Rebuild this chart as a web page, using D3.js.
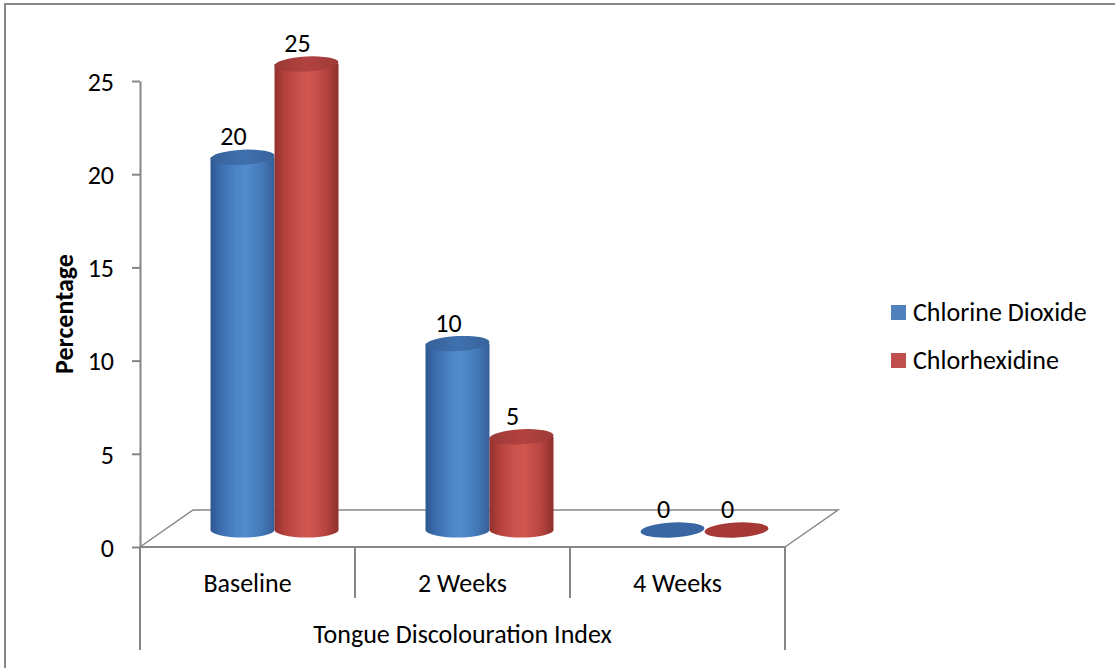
<!DOCTYPE html>
<html>
<head>
<meta charset="utf-8">
<script src="https://cdn.jsdelivr.net/npm/d3@7"></script>
<style>
  html, body { margin: 0; padding: 0; background: #fff; }
  svg { display: block; }
  text { font-family: Carlito, Calibri, Lato, "Open Sans", sans-serif; fill: #000; }
</style>
</head>
<body>
<svg id="chart" width="1115" height="668"></svg>
<script>
// Tongue discolouration index: share of subjects per visit, by mouthwash
const categories = ["Baseline", "2 Weeks", "4 Weeks"];
const seriesNames = ["Chlorine Dioxide", "Chlorhexidine"];
const chlorineDioxide = [20, 10, 0];
const chlorhexidine = [25, 5, 0];
const yTicks = [0, 5, 10, 15, 20, 25];
const yTitle = "Percentage";
const xTitle = "Tongue Discolouration Index";

const seriesValues = [chlorineDioxide, chlorhexidine];

const svg = d3.select("#chart");
const W = 1115, H = 668;
const axisGrey = "#868686";
const FS = 26;

// outer frame
svg.append("rect")
  .attr("x", 5).attr("y", 4).attr("width", W).attr("height", H)
  .attr("fill", "none").attr("stroke", axisGrey).attr("stroke-width", 2);

// scales (front plane of the 3-D floor)
const y = d3.scaleLinear().domain([0, 25]).range([547, 81]);
const x = d3.scaleBand().domain(categories).range([140, 785]);
const xs = d3.scaleBand().domain(seriesNames).range([0, x.bandwidth()])
  .paddingInner(0).paddingOuter(0.68);

// depth geometry
const depthX = 53, depthY = -37;      // back edge of the floor
const barDX = 27, barDY = -17;        // plane where the cylinders stand

// gradients for the cylinder bodies
const defs = svg.append("defs");
const palettes = {
  "Chlorine Dioxide": {
    body: ["#2d5790", "#3b6cad", "#4d85c6", "#528ccc", "#4479b9", "#355f98"],
    top: "#3c6aa6", flat: "#3a67a3", key: "#4f81bd"
  },
  "Chlorhexidine": {
    body: ["#92302d", "#b3403c", "#cc524e", "#d0564f", "#b84541", "#8e2f2c"],
    top: "#a93f3c", flat: "#a63936", key: "#c0504d"
  }
};
const stopsAt = [0, 0.15, 0.4, 0.55, 0.8, 1];
seriesNames.forEach((s, i) => {
  const g = defs.append("linearGradient").attr("id", "grad" + i)
    .attr("x1", "0%").attr("x2", "100%").attr("y1", "0%").attr("y2", "0%");
  palettes[s].body.forEach((c, k) => {
    g.append("stop").attr("offset", (stopsAt[k] * 100) + "%").attr("stop-color", c);
  });
  const t = defs.append("linearGradient").attr("id", "gradTop" + i)
    .attr("x1", "0%").attr("x2", "100%").attr("y1", "0%").attr("y2", "0%");
  t.append("stop").attr("offset", "0%").attr("stop-color", d3.color(palettes[s].top).darker(0.25));
  t.append("stop").attr("offset", "50%").attr("stop-color", d3.color(palettes[s].top).brighter(0.15));
  t.append("stop").attr("offset", "100%").attr("stop-color", d3.color(palettes[s].top).darker(0.2));
});

// floor
const x0 = x.range()[0], x1 = x.range()[1], yb = y(0);
svg.append("path")
  .attr("d", `M${x0},${yb} L${x0 + depthX},${yb + depthY} L${x1 + depthX},${yb + depthY} L${x1},${yb}`)
  .attr("fill", "none").attr("stroke", axisGrey).attr("stroke-width", 1.5);

// y axis
const yAxis = d3.axisLeft(y).tickValues(yTicks).tickSize(8).tickSizeOuter(0).tickPadding(18);
const gy = svg.append("g").attr("transform", `translate(${x0},0)`).call(yAxis);
gy.attr("font-size", null).attr("font-family", null);
gy.select(".domain").attr("stroke", axisGrey).attr("stroke-width", 2);
gy.selectAll(".tick line").attr("stroke", axisGrey).attr("stroke-width", 2);
gy.selectAll(".tick text").attr("font-size", FS).attr("dy", "0.36em").attr("fill", "#000");

// category axis: front edge and dividers
svg.append("line").attr("x1", x0).attr("x2", x1).attr("y1", yb).attr("y2", yb)
  .attr("stroke", axisGrey).attr("stroke-width", 2);
const dividers = [x0].concat(categories.map(c => x(c) + x.bandwidth()));
dividers.forEach((d, i) => {
  const outer = (i === 0 || i === dividers.length - 1);
  svg.append("line").attr("x1", d).attr("x2", d)
    .attr("y1", yb).attr("y2", outer ? 650 : 598)
    .attr("stroke", axisGrey).attr("stroke-width", 2);
});
svg.selectAll(".cat").data(categories).enter().append("text")
  .attr("class", "cat")
  .attr("x", d => x(d) + x.bandwidth() / 2)
  .attr("y", 592)
  .attr("text-anchor", "middle")
  .attr("font-size", FS)
  .text(d => d);

// axis titles
svg.append("text").attr("x", (x0 + x1) / 2).attr("y", 643)
  .attr("text-anchor", "middle").attr("font-size", FS).text(xTitle);
svg.append("text")
  .attr("transform", "translate(73,314) rotate(-90)")
  .attr("text-anchor", "middle").attr("font-size", FS).attr("font-weight", "bold")
  .text(yTitle);

// cylinders
const rx = xs.bandwidth() / 2, ry = 7.5;
const baseY = y(0) + barDY;
const bars = [];
categories.forEach((c, ci) => {
  seriesNames.forEach((s, si) => {
    bars.push({ cat: c, series: s, si: si, value: seriesValues[si][ci] });
  });
});
const barG = svg.append("g");
bars.forEach(b => {
  const cx = x(b.cat) + xs(b.series) + rx + barDX;
  const topY = y(b.value) + barDY;
  const g = barG.append("g");
  if (b.value > 0) {
    g.append("ellipse").attr("cx", cx).attr("cy", baseY).attr("rx", rx).attr("ry", ry)
      .attr("fill", `url(#grad${b.si})`);
    g.append("rect").attr("x", cx - rx).attr("y", topY).attr("width", rx * 2)
      .attr("height", baseY - topY).attr("fill", `url(#grad${b.si})`);
    g.append("ellipse").attr("cx", cx).attr("cy", topY).attr("rx", rx).attr("ry", ry)
      .attr("transform", `rotate(-3,${cx},${topY})`)
      .attr("fill", `url(#gradTop${b.si})`);
  } else {
    g.append("ellipse").attr("cx", cx).attr("cy", topY).attr("rx", rx).attr("ry", ry)
      .attr("transform", `rotate(-3,${cx},${topY})`)
      .attr("fill", palettes[b.series].flat);
  }
  g.append("text").attr("x", cx - 9).attr("y", topY - 12)
    .attr("text-anchor", "middle").attr("font-size", FS).text(b.value);
});

// legend
const legend = svg.append("g").attr("transform", "translate(891,305)");
seriesNames.forEach((s, i) => {
  const row = legend.append("g").attr("transform", `translate(0,${i * 48})`);
  row.append("rect").attr("width", 15).attr("height", 15)
    .attr("fill", palettes[s].key);
  row.append("text").attr("x", 22).attr("y", 16).attr("font-size", FS).text(s);
});
</script>
</body>
</html>
